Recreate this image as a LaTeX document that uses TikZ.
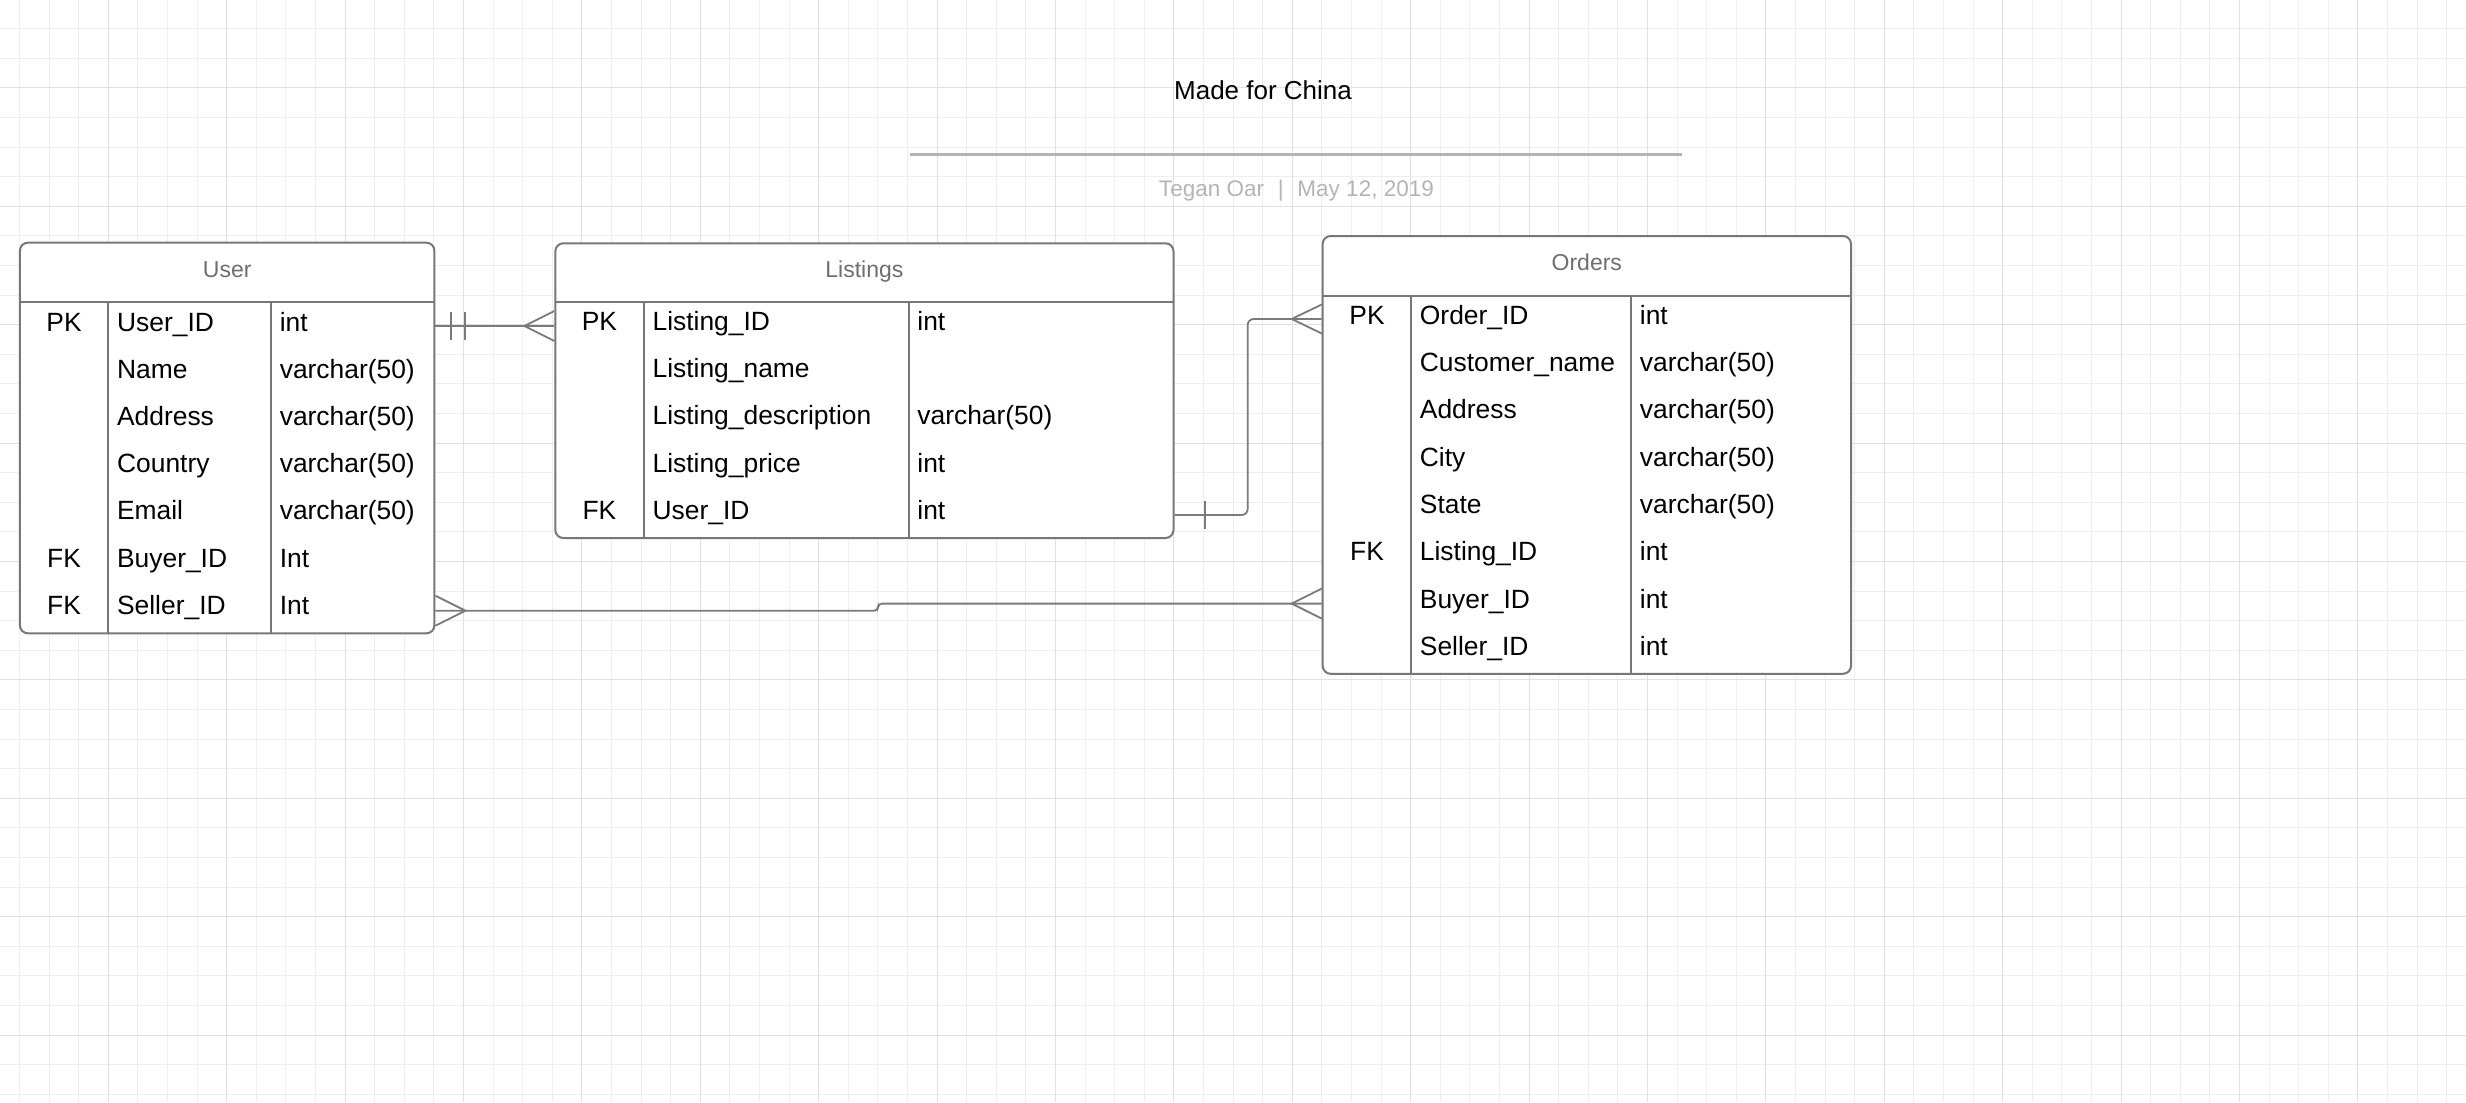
\documentclass[tikz,border=0pt]{standalone}
\usepackage{fontspec}
\setmainfont{Liberation Sans}
\usetikzlibrary{calc,fit}
\definecolor{gridminor}{HTML}{EEEEEE}
\definecolor{gridmajor}{HTML}{E0E0E0}
\definecolor{boxline}{HTML}{777777}
\definecolor{connline}{HTML}{7A7A7A}
\definecolor{headtext}{HTML}{6E6E6E}
\definecolor{subtext}{HTML}{B4B4B4}
\definecolor{rulecol}{HTML}{B3B3B3}
\begin{document}
\begin{tikzpicture}[x=0.5pt,y=-0.5pt,
  minorgrid/.style={draw=gridminor,line width=0.5pt},
  majorgrid/.style={draw=gridmajor,line width=0.55pt},
  tbl/.style={draw=boxline,fill=white,line width=1pt,rounded corners=4pt,inner sep=0pt},
  tblline/.style={draw=boxline,line width=1pt},
  conn/.style={draw=connline,line width=0.9pt},
  cell/.style={inner sep=0pt,font=\fontsize{13.2pt}{15pt}\selectfont,text=black},
  headcell/.style={inner sep=0pt,font=\fontsize{11.5pt}{14pt}\selectfont,text=headtext},
]
\fill[white] (0,0) rectangle (2466,1102);
\useasboundingbox (0,0) rectangle (2466,1102);
% grid
\foreach \i in {0,...,83} \draw[minorgrid] ({19.5+29.6*\i},0) -- ({19.5+29.6*\i},1102);
\foreach \i in {0,...,37} \draw[minorgrid] (0,{28.7+29.6*\i}) -- (2466,{28.7+29.6*\i});
\foreach \i in {1,...,20} \draw[majorgrid] ({-10.1+118.4*\i},0) -- ({-10.1+118.4*\i},1102);
\foreach \i in {0,...,8} \draw[majorgrid] (0,{87.9+118.4*\i}) -- (2466,{87.9+118.4*\i});

% title block
\node[anchor=base,inner sep=0pt,font=\fontsize{13pt}{15pt}\selectfont] (title) at (1263,99) {Made for China};
\draw[draw=rulecol,line width=1.4pt] (910.3,154.3) -- (1682.4,154.3);
\node[anchor=base,inner sep=0pt,font=\fontsize{11.25pt}{14pt}\selectfont,text=subtext] (subtitle) at (1296.4,196.5) {Tegan Oar\hspace{6.9pt}|\hspace{6.9pt}May 12, 2019};

% User table
\node[tbl,fit={(19.9,242.7) (434.4,633.3)}] (user) {};
\draw[tblline] (19.9,301.7) -- (434.4,301.7);
\draw[tblline] (108.3,301.7) -- (108.3,633.3);
\draw[tblline] (271.3,301.7) -- (271.3,633.3);
\node[headcell,anchor=base] (user-h) at (227.2,277.5) {User};
\foreach \k/\n/\t [count=\i from 0] in {PK/User\_ID/int, /Name/varchar(50), /Address/varchar(50), /Country/varchar(50), /Email/varchar(50), FK/Buyer\_ID/Int, FK/Seller\_ID/Int} {
  \node[cell,anchor=base] (u-k\i) at (64.1,{331+47.2*\i}) {\k};
  \node[cell,anchor=base west] (u-n\i) at (116.7,{331+47.2*\i}) {\n};
  \node[cell,anchor=base west] (u-t\i) at (279.4,{331+47.2*\i}) {\t};
}

% Listings table
\node[tbl,fit={(555.3,243.3) (1173.5,538)}] (listings) {};
\draw[tblline] (555.3,301.7) -- (1173.5,301.7);
\draw[tblline] (643.5,301.7) -- (643.5,538);
\draw[tblline] (909,301.7) -- (909,538);
\node[headcell,anchor=base] (listings-h) at (864.4,277.5) {Listings};
\foreach \k/\n/\t [count=\i from 0] in {PK/Listing\_ID/int, /Listing\_name/, /Listing\_description/varchar(50), /Listing\_price/int, FK/User\_ID/int} {
  \node[cell,anchor=base] (l-k\i) at (599.4,{330.4+47.2*\i}) {\k};
  \node[cell,anchor=base west] (l-n\i) at (652.2,{330.4+47.2*\i}) {\n};
  \node[cell,anchor=base west] (l-t\i) at (917,{330.4+47.2*\i}) {\t};
}

% Orders table
\node[tbl,fit={(1322.7,236) (1851,673.8)}] (orders) {};
\draw[tblline] (1322.7,296) -- (1851,296);
\draw[tblline] (1411.2,296) -- (1411.2,673.8);
\draw[tblline] (1631.2,296) -- (1631.2,673.8);
\node[headcell,anchor=base] (orders-h) at (1586.8,270.8) {Orders};
\foreach \k/\n/\t [count=\i from 0] in {PK/Order\_ID/int, /Customer\_name/varchar(50), /Address/varchar(50), /City/varchar(50), /State/varchar(50), FK/Listing\_ID/int, /Buyer\_ID/int, /Seller\_ID/int} {
  \node[cell,anchor=base] (o-k\i) at (1367,{324.3+47.3*\i}) {\k};
  \node[cell,anchor=base west] (o-n\i) at (1419.5,{324.3+47.3*\i}) {\n};
  \node[cell,anchor=base west] (o-t\i) at (1639.5,{324.3+47.3*\i}) {\t};
}

% connector 1: User -> Listings
\coordinate (r1) at (0,326);
\draw[conn] (user.east |- r1) -- (listings.west |- r1);
\draw[conn] ($(user.east |- r1)+(15.3,-14.3)$) -- ++(0,28.6);
\draw[conn] ($(user.east |- r1)+(29.8,-14.3)$) -- ++(0,28.6);
\draw[conn] ($(listings.west |- r1)+(0,-15)$) -- ($(listings.west |- r1)+(-30,0)$) -- ($(listings.west |- r1)+(0,15)$);

% connector 2: Listings -> Orders
\coordinate (r2a) at (0,515);
\coordinate (r2b) at (0,319);
\coordinate (v2) at (1247.7,0);
\draw[conn,rounded corners=3pt] (listings.east |- r2a) -- (v2 |- r2a) -- (v2 |- r2b) -- (orders.west |- r2b);
\draw[conn] ($(listings.east |- r2a)+(30.8,-14)$) -- ++(0,28.3);
\draw[conn] ($(orders.west |- r2b)+(0,-14.5)$) -- ($(orders.west |- r2b)+(-30,0)$) -- ($(orders.west |- r2b)+(0,14.5)$);

% connector 3: User -> Orders
\coordinate (r3a) at (0,610.7);
\coordinate (r3b) at (0,603.6);
\coordinate (j3) at (878,0);
\draw[conn,rounded corners=2pt] (user.east |- r3a) -- (j3 |- r3a) -- (j3 |- r3b) -- (orders.west |- r3b);
\draw[conn] ($(user.east |- r3a)+(0,-15)$) -- ($(user.east |- r3a)+(30,0)$) -- ($(user.east |- r3a)+(0,15)$);
\draw[conn] ($(orders.west |- r3b)+(0,-15)$) -- ($(orders.west |- r3b)+(-30,0)$) -- ($(orders.west |- r3b)+(0,15)$);
\end{tikzpicture}
\end{document}
